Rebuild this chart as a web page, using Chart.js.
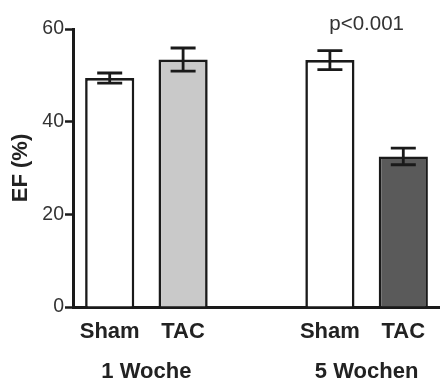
<!DOCTYPE html>
<html lang="de">
<head>
  <meta charset="UTF-8">
  <title>EF (%)</title>
  <script src="https://cdn.jsdelivr.net/npm/chart.js"></script>
  <style>
    body { margin: 0; background: #fff; }
    #wrap { width: 440px; height: 385px; }
  </style>
</head>
<body>
  <div id="wrap"><canvas id="efChart"></canvas></div>

  <script>
    // values
    const labels = ['Sham', 'TAC', '', 'Sham', 'TAC'];
    const efMean = [49.4, 53.4, null, 53.3, 32.5];
    const efSem = [1.1, 2.5, null, 2.05, 1.8];
    const barColors = ['#ffffff', '#c9c9c9', '#ffffff', '#ffffff', '#5a5a5a'];
    const groupLabels = ['1 Woche', '5 Wochen'];
    const groupIndex = [[0, 1], [3, 4]];
    const pLabel = 'p<0.001';
    const yTicks = [0, 20, 40, 60];

    const ink = '#1a1a1a';
    const fontFamily = "'Liberation Sans', Arial, sans-serif";

    // error bars + group labels + p value
    const extras = {
      id: 'extras',
      afterDatasetsDraw(chart) {
        const ctx = chart.ctx;
        const y = chart.scales.y;
        const meta = chart.getDatasetMeta(0);
        ctx.save();
        ctx.strokeStyle = ink;
        ctx.lineWidth = 2.8;
        efMean.forEach((m, i) => {
          if (m == null) return;
          const x = meta.data[i].x;
          const top = y.getPixelForValue(m + efSem[i]);
          const bot = y.getPixelForValue(m - efSem[i]);
          ctx.beginPath();
          ctx.moveTo(x, top); ctx.lineTo(x, bot);
          ctx.moveTo(x - 12.5, top); ctx.lineTo(x + 12.5, top);
          ctx.moveTo(x - 12.5, bot); ctx.lineTo(x + 12.5, bot);
          ctx.stroke();
        });

        ctx.fillStyle = '#222';
        ctx.font = 'bold 22px ' + fontFamily;
        ctx.textAlign = 'center';
        ctx.textBaseline = 'middle';
        groupIndex.forEach((pair, g) => {
          const cx = (meta.data[pair[0]].x + meta.data[pair[1]].x) / 2;
          ctx.fillText(groupLabels[g], cx, 372);
        });

        ctx.fillStyle = '#333';
        ctx.font = '20.5px ' + fontFamily;
        const px = (meta.data[3].x + meta.data[4].x) / 2;
        ctx.fillText(pLabel, px, 24);
        ctx.restore();
      }
    };

    new Chart(document.getElementById('efChart'), {
      type: 'bar',
      data: {
        labels: labels,
        datasets: [{
          data: efMean,
          backgroundColor: barColors,
          borderColor: ink,
          borderWidth: 2.6,
          barPercentage: 0.67,
          categoryPercentage: 1
        }]
      },
      options: {
        responsive: true,
        maintainAspectRatio: false,
        animation: false,
        layout: { padding: { top: 29, right: -4, left: 0, bottom: 0 } },
        plugins: { legend: { display: false }, tooltip: { enabled: false } },
        scales: {
          x: {
            grid: { display: false, drawTicks: false },
            border: { color: ink, width: 3 },
            ticks: {
              color: '#222',
              padding: 12,
              font: { family: fontFamily, size: 22, weight: 'bold' }
            },
            afterFit(scale) { scale.height = 78; }
          },
          y: {
            min: 0,
            max: 60,
            afterBuildTicks(scale) { scale.ticks = yTicks.map(v => ({ value: v })); },
            grid: { drawOnChartArea: false, drawTicks: true, tickLength: 8, tickWidth: 2.5, tickColor: ink },
            border: { color: ink, width: 3 },
            ticks: {
              color: '#333',
              padding: 1,
              font: { family: fontFamily, size: 19.5 }
            },
            title: {
              display: true,
              text: 'EF (%)',
              color: '#222',
              padding: { top: 8, bottom: 0 },
              font: { family: fontFamily, size: 22, weight: 'bold' }
            },
            afterFit(scale) { scale.width = 73; }
          }
        }
      },
      plugins: [extras]
    });
  </script>
</body>
</html>
